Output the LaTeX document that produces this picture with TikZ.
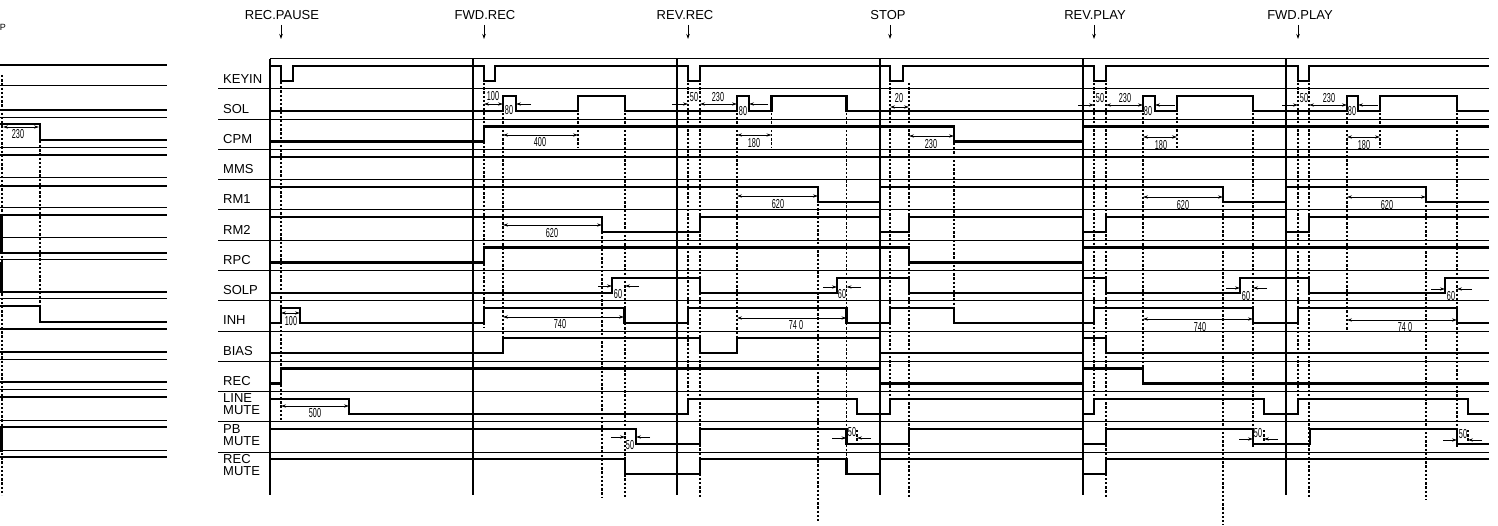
\documentclass[tikz,border=0pt]{standalone}
\usepackage{fontspec}
\setmainfont{Liberation Sans}
\usepackage{graphicx}
\usetikzlibrary{arrows.meta}
\newcommand\nn[1]{\scalebox{0.56}[1]{#1}}
\newcommand\wave[2]{\begin{scope}[yshift={-30.25pt*(#1)}]\draw[sigline] #2;\end{scope}}
\begin{document}
\begin{tikzpicture}[x=1pt,y=-1pt,
  sigline/.style={line width=2.4pt, line join=miter, line cap=butt},
  sepline/.style={line width=1pt},
  evtline/.style={line width=1.4pt},
  dotv/.style={line width=1.2pt, dash pattern=on 2.4pt off 1.8pt},
  dimarr/.style={line width=0.7pt, {Stealth[length=5pt,width=3.2pt]}-{Stealth[length=5pt,width=3.2pt]}},
  dimr/.style={line width=0.7pt, -{Stealth[length=5pt,width=3.2pt]}},
  lbl/.style={anchor=base west, inner sep=0pt, font=\fontsize{13}{13}\selectfont},
  evl/.style={anchor=base, inner sep=0pt, font=\fontsize{13}{13}\selectfont},
  num/.style={inner sep=0pt, font=\fontsize{13}{13}\selectfont},
]
\fill[white] (0,0) rectangle (1498,526);
\useasboundingbox (0,0) rectangle (1498,526);

% ---------- left fragment ----------
\foreach \y in {86,118,148,178,208,238,260,299,329,359,389,420,450}
  \draw[sepline] (0,\y) -- (167,\y);
\foreach \y in {65,110,155,186,215,253,292,352,382,397,427,457}
  \draw[sigline] (0,\y) -- (167,\y);
\draw[sigline] (0,124) -| (40,140) -- (167,140);
\draw[sigline] (0,306) -| (40,322) -- (167,322);
\draw[sigline] (1.5,215) -- (1.5,253);
\draw[sigline] (1.5,262) -- (1.5,292);
\draw[sigline] (1.5,427) -- (1.5,452);
\draw[dotv] (2,75) -- (2,495);
\draw[dotv] (40,124) -- (40,306);
\draw[dimarr] (3,127) -- (39,127);
\node[num] (fr230) at (18,134) {\nn{230}};
\node[inner sep=0pt, font=\fontsize{9}{9}\selectfont] (frp) at (3,27) {P};

% ---------- separators ----------
\draw[sepline] (270,58.75) -- (1489,58.75);
\foreach \j in {1,...,13}
  \draw[sepline] (218,{58.75+30.25*\j}) -- (1489,{58.75+30.25*\j});

% ---------- labels ----------
\node[lbl] (lKEYIN) at (223,83.5) {KEYIN};
\node[lbl] (lSOL) at (223,113.5) {SOL};
\node[lbl] (lCPM) at (223,143.5) {CPM};
\node[lbl] (lMMS) at (223,174) {MMS};
\node[lbl] (lRM1) at (223,204) {RM1};
\node[lbl] (lRM2) at (223,234.5) {RM2};
\node[lbl] (lRPC) at (223,264.5) {RPC};
\node[lbl] (lSOLP) at (223,295) {SOLP};
\node[lbl] (lINH) at (223,325) {INH};
\node[lbl] (lBIAS) at (223,355.5) {BIAS};
\node[lbl] (lREC) at (223,385.5) {REC};
\node[lbl] (lLINEa) at (223,402.5) {LINE};
\node[lbl] (lLINEb) at (223,414.5) {MUTE};
\node[lbl] (lPBa) at (223,433) {PB};
\node[lbl] (lPBb) at (223,445) {MUTE};
\node[lbl] (lRMa) at (223,463.5) {REC};
\node[lbl] (lRMb) at (223,475.5) {MUTE};

% ---------- event lines ----------
\foreach \x in {270,473,677,880,1083,1286}
  \draw[evtline] (\x,58.75) -- (\x,495);

% ---------- event labels ----------
\node[evl] (eRP) at (282,19.5) {REC.PAUSE};
\node[evl] (eFR) at (485,19.5) {FWD.REC};
\node[evl] (eRR) at (685,19.5) {REV.REC};
\node[evl] (eST) at (888,19.5) {STOP};
\node[evl] (eRPL) at (1095,19.5) {REV.PLAY};
\node[evl] (eFP) at (1300,19.5) {FWD.PLAY};
\foreach \x in {281,484,688,890,1094,1298}
  \draw[line width=1pt, -{Stealth[length=5pt,width=3.5pt]}] (\x,25) -- (\x,39);

% ---------- dotted verticals ----------
\foreach \x/\a/\b in {281/82/421, 484/83/328, 503/113/338, 578/113/148, 602/232/497,
  625/113/497, 688/83/400, 700/83/497, 737/113/338, 771.5/113/148, 818/204/523,
  846.5/113/475, 857/430/445, 890/83/400, 909/83/497, 954/143/308,
  1094/83/402, 1106/83/497, 1143/113/370, 1177/100/148, 1223/205/525,
  1253/113/447, 1264/430/445, 1298/83/402, 1309/83/497, 1347/113/330,
  1380/113/148, 1426/205/500, 1457/113/447, 1468/430/445}
  \draw[dotv] (\x,\a) -- (\x,\b);

% ---------- waveforms (high = 66, low = 81 within each row) ----------
\wave{0}{(270,66) -| (281,81) -| (293,66) -| (484,81) -| (495,66) -| (688,81) -| (700,66) -| (890,81) -| (903,66) -| (1094,81) -| (1106,66) -| (1298,81) -| (1309,66) -- (1489,66)}
\wave{1}{(270,81) -| (503,66) -| (516,81) -| (578,66) -| (625,81) -| (737,66) -| (749,81) -| (771.5,66) -| (846.5,81) -| (1143,66) -| (1155,81) -| (1177,66) -| (1253,81) -| (1347,66) -| (1358,81) -| (1380,66) -| (1457,81) -- (1489,81)}
\wave{2}{(270,81) -| (484,66) -| (954,81) -| (1083,66) -- (1489,66)}
\wave{3}{(270,66) -- (1489,66)}
\wave{4}{(270,66) -| (818,81) -| (880,66) -| (1223,81) -| (1286,66) -| (1426,81) -- (1489,81)}
\wave{5}{(270,66) -| (602,81) -| (700,66) -| (880,81) -| (909,66) -| (1083,81) -| (1106,66) -| (1286,81) -| (1309,66) -- (1489,66)}
\wave{6}{(270,81) -| (484,66) -| (909,81) -| (1083,66) -- (1489,66)}
\wave{7}{(270,81) -| (612,66) -| (700,81) -| (837,66) -| (909,81) -| (1083,66) -| (1106,81) -| (1240,66) -| (1309,81) -| (1445,66) -- (1489,66)}
\wave{8}{(270,81) -| (281,66) -| (300,81) -| (484,66) -| (624.5,81) -| (688,66) -| (846.5,81) -| (890,66) -| (954,81) -| (1094,66) -| (1253,81) -| (1298,66) -| (1457,81) -- (1489,81)}
\wave{9}{(270,81) -| (503,66) -| (700,81) -| (737,66) -| (880,81) -| (1083,66) -| (1106,81) -- (1489,81)}
\wave{10}{(270,81) -| (281,66) -| (880,81) -| (1083,66) -| (1143,81) -- (1489,81)}
\wave{11}{(270,66) -| (349,81) -| (688,66) -| (857,81) -| (890,66) -| (1083,81) -| (1094,66) -| (1264,81) -| (1298,66) -| (1468,81) -- (1489,81)}
\wave{12}{(270,66) -| (636,81) -| (700,66) -| (846.5,81) -| (909,66) -| (1083,81) -| (1106,66) -| (1253,81) -| (1310,66) -| (1457,81) -- (1489,81)}
\wave{13}{(270,66) -| (625,81) -| (700,66) -| (846.5,81) -| (880,66) -| (1083,81) -| (1106,66) -- (1489,66)}

% ---------- dimensions: REC.PAUSE ----------
\draw[dimarr] (281,313) -- (300,313); \node[num] (n1) at (291,321) {\nn{100}};
\draw[dimarr] (281,406) -- (349,406); \node[num] (n2) at (315,413) {\nn{500}};

% ---------- FWD.REC ----------
\draw[dimarr] (484,104) -- (503,104); \node[num] (n3) at (493,96) {\nn{100}};
\draw[dimr] (531,104) -- (516,104); \node[num] (n4) at (509,110) {\nn{80}};
\draw[dimarr] (503,135) -- (578,135); \node[num] (n5) at (540,142) {\nn{400}};
\draw[dimarr] (503,225) -- (602,225); \node[num] (n6) at (552,233) {\nn{620}};
\draw[dimr] (598,286) -- (612,286); \draw[dimr] (639,286) -- (625,286); \node[num] (n7) at (618,294) {\nn{60}};
\draw[dimarr] (503,317) -- (624,317); \node[num] (n8) at (560,324) {\nn{740}};
\draw[dimr] (611,437) -- (625,437); \draw[dimr] (650,437) -- (636,437); \node[num] (n9) at (630,445) {\nn{50}};

% ---------- REV.REC ----------
\draw[dimr] (672,104) -- (688,104); \node[num] (n10) at (694,97) {\nn{50}};
\draw[dimarr] (700,104) -- (737,104); \node[num] (n11) at (718,97) {\nn{230}};
\draw[dimr] (768,104) -- (749,104); \node[num] (n12) at (743,111) {\nn{80}};
\draw[dimarr] (737,135) -- (771.5,135); \node[num] (n13) at (754,143) {\nn{180}};
\draw[dimarr] (737,196) -- (818,196); \node[num] (n14) at (778,204) {\nn{620}};
\draw[dimr] (823,287) -- (837,287); \draw[dimr] (861,287) -- (846.5,287); \node[num] (n15) at (842,294) {\nn{60}};
\draw[dimarr] (737,318) -- (846.5,318); \node[num] (n16) at (796,325) {\nn{74 0}};
\draw[dimr] (832,438) -- (846.5,438); \draw[dimr] (871,438) -- (857,438); \node[num] (n17) at (852,432) {\nn{50}};

% ---------- STOP ----------
\draw[dimarr] (890,107) -- (909,107); \node[num] (n18) at (899,98) {\nn{20}};
\draw[dimarr] (909,136) -- (954,136); \node[num] (n19) at (931,144) {\nn{230}};

% ---------- REV.PLAY ----------
\draw[dimr] (1078,105) -- (1094,105); \node[num] (n20) at (1100,98) {\nn{50}};
\draw[dimarr] (1106,105) -- (1143,105); \node[num] (n21) at (1125,98) {\nn{230}};
\draw[dimr] (1175,105) -- (1155,105); \node[num] (n22) at (1148,111) {\nn{80}};
\draw[dimarr] (1143,137) -- (1177,137); \node[num] (n23) at (1161,145) {\nn{180}};
\draw[dimarr] (1143,197) -- (1223,197); \node[num] (n24) at (1183,205) {\nn{620}};
\draw[dimr] (1226,288) -- (1240,288); \draw[dimr] (1267,288) -- (1253,288); \node[num] (n25) at (1246,296) {\nn{60}};
\draw[dimarr] (1143,319) -- (1253,319); \node[num] (n26) at (1200,327) {\nn{740}};
\draw[dimr] (1239,439) -- (1253,439); \draw[dimr] (1278,439) -- (1264,439); \node[num] (n27) at (1258,433) {\nn{50}};

% ---------- FWD.PLAY ----------
\draw[dimr] (1282,105) -- (1298,105); \node[num] (n28) at (1304,98) {\nn{50}};
\draw[dimarr] (1309,105) -- (1347,105); \node[num] (n29) at (1329,98) {\nn{230}};
\draw[dimr] (1378,105) -- (1358,105); \node[num] (n30) at (1352,111) {\nn{80}};
\draw[dimarr] (1347,137) -- (1380,137); \node[num] (n31) at (1364,145) {\nn{180}};
\draw[dimarr] (1347,197) -- (1426,197); \node[num] (n32) at (1387,205) {\nn{620}};
\draw[dimr] (1431,289) -- (1445,289); \draw[dimr] (1472,289) -- (1457,289); \node[num] (n33) at (1451,296) {\nn{60}};
\draw[dimarr] (1347,320) -- (1457,320); \node[num] (n34) at (1405,327) {\nn{74 0}};
\draw[dimr] (1443,440) -- (1457,440); \draw[dimr] (1482,440) -- (1468,440); \node[num] (n35) at (1463,434) {\nn{50}};
\end{tikzpicture}
\end{document}
